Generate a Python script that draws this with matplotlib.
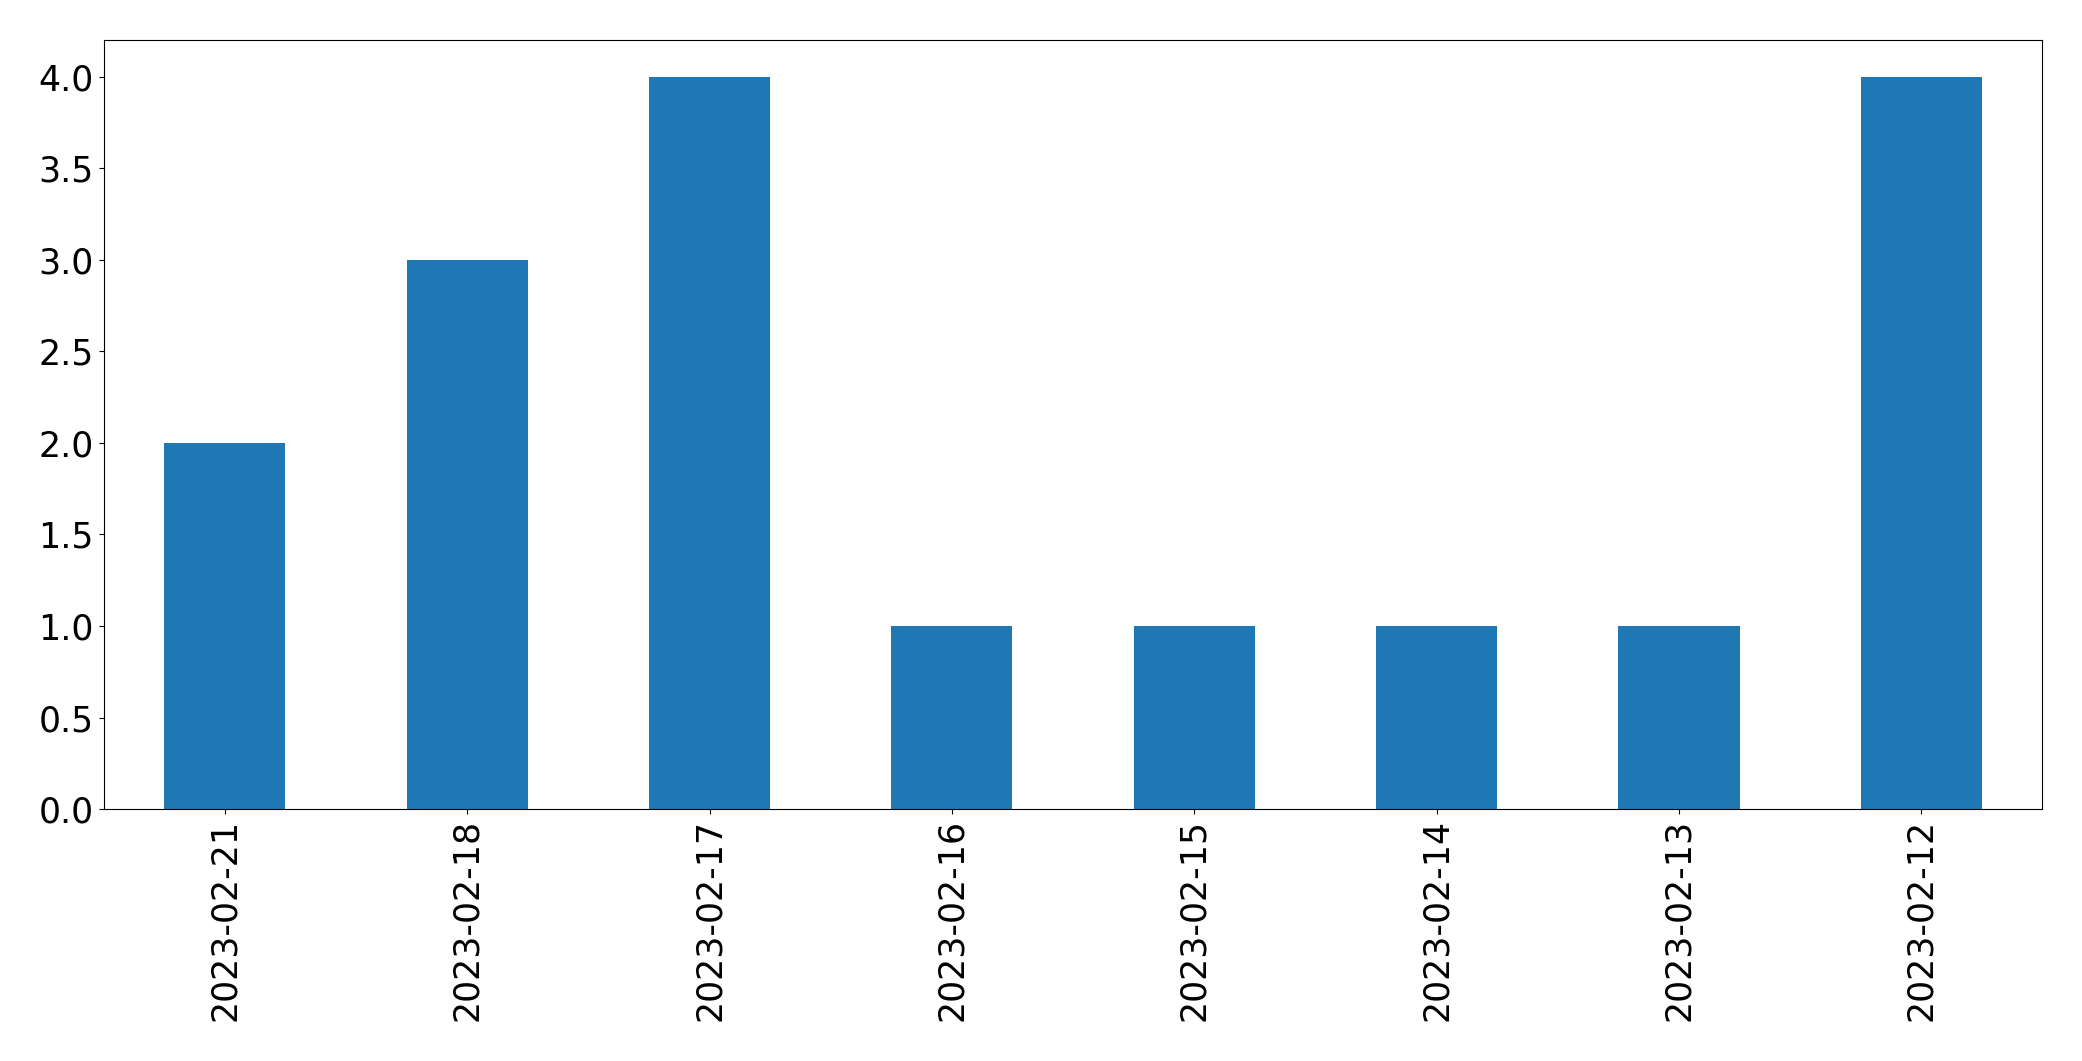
import matplotlib
matplotlib.use("Agg")
import pandas as pd
from matplotlib import pyplot as plt

dates = ["2023-02-21", "2023-02-18", "2023-02-17", "2023-02-16",
         "2023-02-15", "2023-02-14", "2023-02-13", "2023-02-12"]
counts = [2, 3, 4, 1, 1, 1, 1, 4]

series = pd.Series(counts, index=dates)

plt.rcParams["font.size"] = 25
fig, ax = plt.subplots(figsize=(20.82, 10.61), dpi=100)
series.plot(kind="bar", ax=ax, color="#1f77b4")
ax.tick_params(labelsize=25)
fig.subplots_adjust(left=0.0498, right=0.981, top=0.962, bottom=0.2375)
fig.savefig("out.png", dpi=100)
